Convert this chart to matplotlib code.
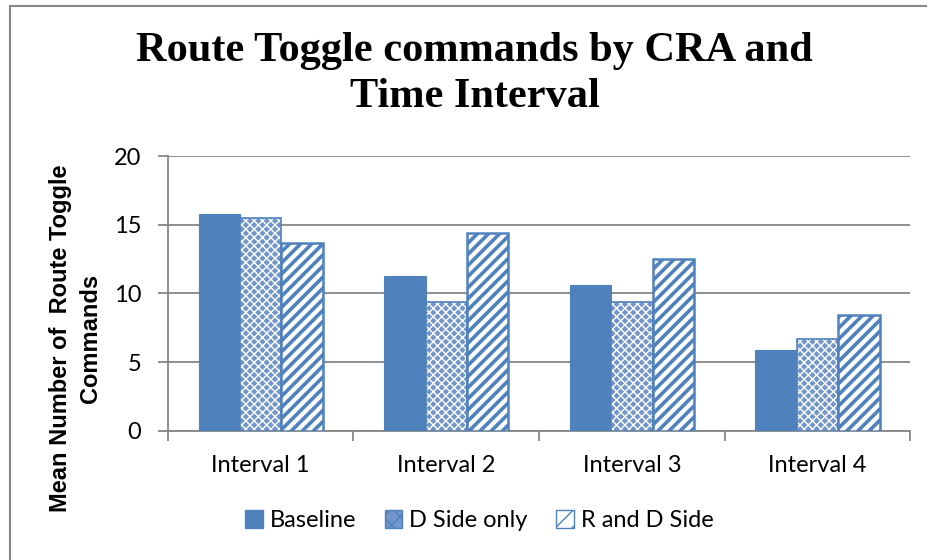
import matplotlib
matplotlib.use("Agg")
import matplotlib.pyplot as plt
import numpy as np
from matplotlib.lines import Line2D
from matplotlib.patches import Patch

categories = ["Interval 1", "Interval 2", "Interval 3", "Interval 4"]
series_names = ["Baseline", "D Side only", "R and D Side"]
baseline = [15.8, 11.3, 10.6, 5.9]
d_side_only = [15.5, 9.4, 9.4, 6.7]
r_and_d_side = [13.7, 14.4, 12.5, 8.4]
y_ticks = [0, 5, 10, 15, 20]

BLUE = "#4F81BD"
DOT_FILL = "#7396ca"
GRID = "#868686"
tick_font = "Lato"

fig = plt.figure(figsize=(9.27, 5.6), dpi=100)
ax = fig.add_axes([0.181, 0.2304, 0.801, 0.491])

x = np.arange(len(categories))
w = 0.223

# Baseline: solid fill
ax.bar(x - w, baseline, w, color=BLUE, edgecolor=BLUE, linewidth=0.8, zorder=3)

# D Side only: blue with small white crosshatch
with plt.rc_context({"hatch.linewidth": 1.0}):
    ax.bar(x, d_side_only, w, color=DOT_FILL, edgecolor="white", hatch="xxxx",
           linewidth=0, zorder=3)
ax.bar(x, d_side_only, w, fill=False, edgecolor=BLUE, linewidth=1.2, zorder=4)

# R and D Side: white with wide diagonal stripes
with plt.rc_context({"hatch.linewidth": 2.6}):
    ax.bar(x + w, r_and_d_side, w, color="white", edgecolor=BLUE, hatch="///",
           linewidth=0, zorder=3)
ax.bar(x + w, r_and_d_side, w, fill=False, edgecolor=BLUE, linewidth=1.8, zorder=4)

ax.set_xlim(-0.5, len(categories) - 0.5)
ax.set_ylim(0, 20)
ax.set_yticks(y_ticks)
ax.set_yticklabels([str(t) for t in y_ticks], fontsize=17, family=tick_font)
ax.yaxis.grid(True, color=GRID, linewidth=1.3, zorder=0)
ax.set_axisbelow(True)

ax.set_xticks(x)
ax.set_xticklabels(categories, fontsize=17, family=tick_font)
ax.tick_params(axis="x", length=0, pad=17)
ax.set_xticks(np.arange(-0.5, len(categories)), minor=True)
ax.tick_params(axis="x", which="minor", length=7, width=1.3, color=GRID, direction="out")
ax.tick_params(axis="y", length=7, width=1.3, color=GRID, direction="out", pad=12)

for side in ("top", "right"):
    ax.spines[side].set_visible(False)
for side in ("left", "bottom"):
    ax.spines[side].set_color(GRID)
    ax.spines[side].set_linewidth(1.3)

ax.set_ylabel("Mean Number of  Route Toggle\nCommands", fontsize=17,
              family="Liberation Sans", fontweight="bold",
              linespacing=1.4, va="center")
ax.yaxis.set_label_coords(-0.124, 0.338)

fig.text(0.512, 0.868, "Route Toggle commands by CRA and\nTime Interval",
         ha="center", va="center", fontsize=30.5, fontweight="bold",
         family="Liberation Serif", linespacing=1.27)

# Legend
with plt.rc_context({"hatch.linewidth": 1.0}):
    handles = [
        Patch(facecolor=BLUE, edgecolor=BLUE),
        Patch(facecolor=DOT_FILL, edgecolor="white", hatch="xx"),
        Patch(facecolor="white", edgecolor=BLUE, hatch="//"),
    ]
leg = fig.legend(handles, series_names, loc="center", bbox_to_anchor=(0.517, 0.07),
                 ncol=3, frameon=False, handlelength=0.75, handleheight=0.75,
                 handletextpad=0.3, columnspacing=1.2,
                 prop={"family": tick_font, "size": 17})
for h in leg.legend_handles:
    h.set_edgecolor(BLUE)

# Chart frame lines
fig.add_artist(Line2D([10 / 927, 10 / 927], [0, 1 - 6 / 560], transform=fig.transFigure,
                      color="#888888", linewidth=1.5))
fig.add_artist(Line2D([10 / 927, 1], [1 - 6 / 560, 1 - 6 / 560], transform=fig.transFigure,
                      color="#888888", linewidth=1.5))

fig.savefig("out.png", dpi=100)
